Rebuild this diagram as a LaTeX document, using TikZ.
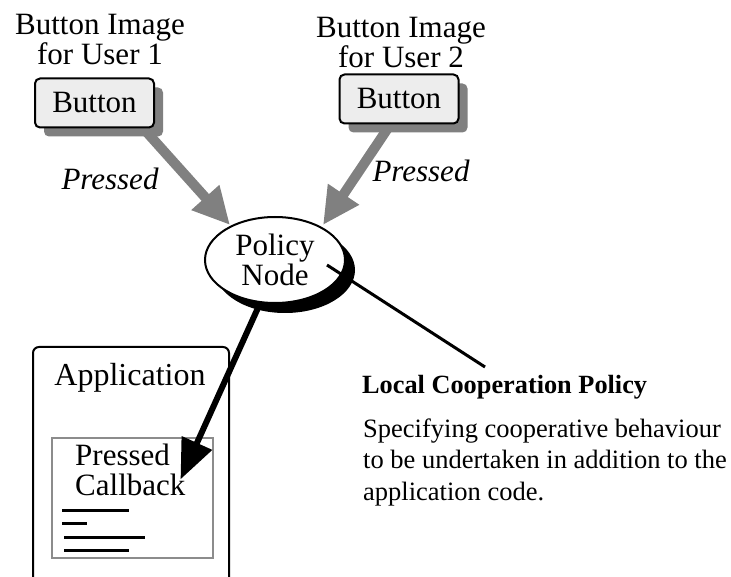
\documentclass[tikz,border=0pt]{standalone}
\usepackage{fontspec}
\setmainfont{Liberation Serif}
\usetikzlibrary{arrows.meta,shapes.geometric,shadows}
\definecolor{arrowgray}{HTML}{808080}
\definecolor{btnfill}{HTML}{EDEDED}
\definecolor{boxgray}{HTML}{8C8C8C}
\tikzset{
  bigtext/.style={font=\fontsize{31}{30}\selectfont, inner sep=0pt},
  labeltext/.style={bigtext, align=center, anchor=base},
  presslabel/.style={font=\fontsize{31}{30}\selectfont\itshape, inner sep=0pt, anchor=base},
  buttonbox/.style={bigtext, draw, line width=2pt, fill=btnfill, rounded corners=5pt,
    minimum width=119pt, minimum height=49pt,
    drop shadow={shadow xshift=9pt, shadow yshift=-9pt, fill=arrowgray, opacity=1}},
  grayarrow/.style={draw=arrowgray, line width=10pt,
    -{Triangle[length=37pt, width=35pt, fill=arrowgray]}},
  policynode/.style={bigtext, ellipse, draw, line width=2pt, fill=white,
    minimum width=140pt, minimum height=86pt, align=center,
    drop shadow={shadow xshift=10pt, shadow yshift=-10pt, fill=black, opacity=1}},
  appbox/.style={draw, line width=2pt, rounded corners=6pt, inner sep=0pt},
  cbbox/.style={draw=boxgray, line width=2pt, inner sep=0pt},
  codeline/.style={line width=3pt},
}
\begin{document}
\begin{tikzpicture}[x=1pt, y=-1pt]
\useasboundingbox (0,0) rectangle (731,577);
\clip (0,0) rectangle (731,577);

% application window with its callback
\node[appbox, minimum width=196pt, minimum height=260pt] (app) at (131,477) {};
\node[bigtext, font=\fontsize{32}{32}\selectfont, anchor=base] (apptitle) at (130,385) {Application};
\node[cbbox, minimum width=161pt, minimum height=120pt] (cb) at (132.5,498) {};
\node[bigtext, align=left, anchor=base west] (cbtext) at (75,495) {Pressed\\Callback};
\draw[codeline] (62,510) coordinate (l1a) -- (129,510) coordinate (l1b);
\draw[codeline] (62,523) coordinate (l2a) -- (87,523) coordinate (l2b);
\draw[codeline] (64,537) coordinate (l3a) -- (145,537) coordinate (l3b);
\draw[codeline] (64,550) coordinate (l4a) -- (129,550) coordinate (l4b);

% connector points
\coordinate (pstart) at (262,299);
\coordinate (ptip) at (180.5,479.4);
\coordinate (s1) at (143,128);
\coordinate (t1) at (230,225);
\coordinate (s2) at (390,125);
\coordinate (t2) at (323,225);
\coordinate (lcpend) at (485,367);

% callback arrow from the policy node
\draw[line width=6pt, -{Triangle[length=40pt, width=32pt]}] (pstart) -- (ptip);

% "Pressed" events
\draw[grayarrow] (s1) -- (t1);
\draw[grayarrow] (s2) -- (t2);

% button images
\node[buttonbox] (b1) at (94.5,103) {Button};
\node[buttonbox] (b2) at (399,99) {Button};
\node[labeltext] (u1) at (100,65) {Button Image\\for User 1};
\node[labeltext] (u2) at (401,68) {Button Image\\for User 2};
\node[presslabel] (p1) at (110,190) {Pressed};
\node[presslabel] (p2) at (421,182) {Pressed};

% policy node
\node[policynode] (policy) at (275,260) {Policy\\Node};
\coordinate (lcpstart) at (327,265);
\draw[line width=3pt] (lcpstart) -- (lcpend);

% policy description
\node[font=\fontsize{26.3}{26.3}\selectfont\bfseries, inner sep=0pt, anchor=base west]
  (lcp) at (362,393) {Local Cooperation Policy};
\node[font=\fontsize{26.5}{31.5}\selectfont, inner sep=0pt, align=left, anchor=base west]
  (desc) at (363,500) {Specifying cooperative behaviour\\to be undertaken in addition to the\\application code.};
\end{tikzpicture}
\end{document}
